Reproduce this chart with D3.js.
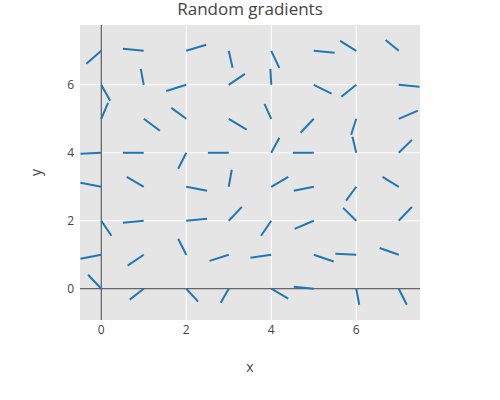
<!DOCTYPE html>
<html><head><meta charset="utf-8">
<script src="https://cdn.jsdelivr.net/npm/d3@7"></script>
<style>body{margin:0;background:#fff}text{font-family:"Open Sans",Arial,sans-serif}</style>
</head><body><svg id="chart" width="500" height="400"></svg>
<script>
// gradient vector per grid point, row index = y (0..7), column = x (0..7)
const gridX = [0, 1, 2, 3, 4, 5, 6, 7];
const gridY = [0, 1, 2, 3, 4, 5, 6, 7];
const gradDx = [
  [-0.31, -0.33, 0.28, -0.19, 0.40, -0.47, 0.07, 0.19],
  [-0.49, -0.38, -0.19, -0.45, -0.49, 0.47, -0.49, -0.45],
  [0.24, -0.49, 0.49, 0.31, -0.24, -0.45, -0.31, 0.31],
  [-0.49, -0.40, 0.49, 0.07, 0.40, -0.47, -0.24, -0.38],
  [-0.49, -0.49, -0.19, -0.49, 0.19, -0.49, -0.09, 0.31],
  [0.16, 0.38, -0.35, 0.42, -0.16, -0.31, -0.12, 0.45],
  [0.21, -0.07, -0.47, 0.38, -0.02, 0.42, -0.35, 0.49],
  [-0.35, -0.49, 0.47, 0.09, 0.19, 0.49, -0.38, -0.31],
];
const gradDy = [
  [0.41, -0.32, -0.38, -0.41, -0.29, 0.06, -0.47, -0.47],
  [-0.12, -0.32, 0.47, -0.18, -0.09, -0.20, 0.03, 0.20],
  [-0.44, -0.06, 0.06, 0.41, -0.44, -0.24, 0.38, 0.41],
  [0.12, 0.29, -0.12, 0.50, 0.29, -0.12, -0.41, 0.29],
  [-0.03, 0.00, -0.47, 0.00, 0.44, 0.00, 0.47, 0.38],
  [0.47, -0.35, 0.32, -0.32, 0.44, -0.41, -0.47, 0.24],
  [-0.47, 0.47, -0.18, 0.32, 0.47, -0.26, -0.35, -0.06],
  [-0.38, 0.06, 0.18, -0.50, -0.50, -0.06, 0.29, 0.32],
];
const xTicks = [0, 2, 4, 6];
const yTicks = [0, 2, 4, 6];

const svg = d3.select('#chart');
const margin = { left: 80, right: 80, top: 25, bottom: 80 };
const width = 500 - margin.left - margin.right;
const height = 400 - margin.top - margin.bottom;

const x = d3.scaleLinear().domain([-0.5, 7.5]).range([0, width]);
const y = d3.scaleLinear().domain([-0.92, 7.76]).range([height, 0]);

const g = svg.append('g').attr('transform', `translate(${margin.left},${margin.top})`);
g.append('rect').attr('width', width).attr('height', height).attr('fill', '#e5e5e5');

g.selectAll('.gx').data(xTicks.filter(d => d !== 0)).join('line')
  .attr('x1', d => x(d)).attr('x2', d => x(d)).attr('y1', 0).attr('y2', height)
  .attr('stroke', '#fff').attr('stroke-width', 1);
g.selectAll('.gy').data(yTicks.filter(d => d !== 0)).join('line')
  .attr('y1', d => y(d)).attr('y2', d => y(d)).attr('x1', 0).attr('x2', width)
  .attr('stroke', '#fff').attr('stroke-width', 1);

// zero lines
g.append('line').attr('x1', x(0)).attr('x2', x(0)).attr('y1', 0).attr('y2', height)
  .attr('stroke', '#444').attr('stroke-width', 1);
g.append('line').attr('y1', y(0)).attr('y2', y(0)).attr('x1', 0).attr('x2', width)
  .attr('stroke', '#444').attr('stroke-width', 1);

const segs = [];
gridY.forEach((gy, j) => gridX.forEach((gx, i) => {
  segs.push({ x0: gx, y0: gy, x1: gx + gradDx[j][i], y1: gy + gradDy[j][i] });
}));

g.selectAll('.seg').data(segs).join('line')
  .attr('x1', d => x(d.x0)).attr('y1', d => y(d.y0))
  .attr('x2', d => x(d.x1)).attr('y2', d => y(d.y1))
  .attr('stroke', '#1f77b4').attr('stroke-width', 2);

g.selectAll('.tx').data(xTicks).join('text')
  .attr('x', d => x(d)).attr('y', height + 14).attr('text-anchor', 'middle')
  .attr('font-size', 12).attr('fill', '#444').text(d => d);
g.selectAll('.ty').data(yTicks).join('text')
  .attr('x', -6).attr('y', d => y(d)).attr('dy', '0.35em').attr('text-anchor', 'end')
  .attr('font-size', 12).attr('fill', '#444').text(d => d);

svg.append('text').attr('x', 250).attr('y', 15).attr('text-anchor', 'middle')
  .attr('font-size', 17).attr('fill', '#444').text('Random gradients');
svg.append('text').attr('x', margin.left + width / 2).attr('y', 372).attr('text-anchor', 'middle')
  .attr('font-size', 14).attr('fill', '#444').text('x');
svg.append('text').attr('transform', `translate(41,${margin.top + height / 2}) rotate(-90)`)
  .attr('text-anchor', 'middle').attr('font-size', 14).attr('fill', '#444').text('y');
</script></body></html>
